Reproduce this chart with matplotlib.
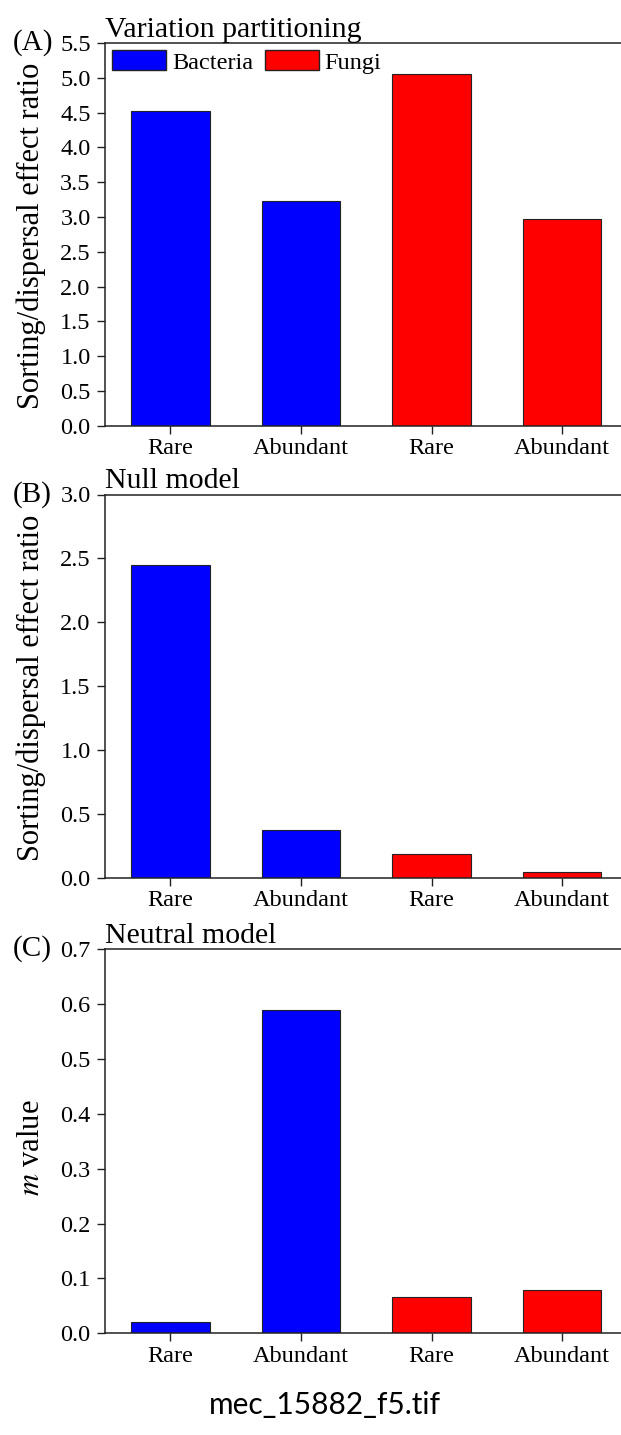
import matplotlib
matplotlib.use("Agg")
from matplotlib import pyplot as plt
from matplotlib.patches import Patch

plt.rcParams['font.family'] = ['Liberation Serif', 'DejaVu Serif']
plt.rcParams['mathtext.fontset'] = 'stix'

categories = ['Rare', 'Abundant', 'Rare', 'Abundant']
groups = ['Bacteria', 'Bacteria', 'Fungi', 'Fungi']
colors = {'Bacteria': '#0000FF', 'Fungi': '#FF0000'}

variation = [4.52, 3.23, 5.05, 2.97]
null_model = [2.45, 0.376, 0.185, 0.047]
neutral = [0.021, 0.588, 0.067, 0.078]

W, H = 621, 1435
LEFT = 105
fig = plt.figure(figsize=(W / 100, H / 100), dpi=100)


def px_axes(top, bottom):
    return fig.add_axes([LEFT / W, 1 - bottom / H, (W - LEFT) / W, (bottom - top) / H])


panels = [
    (px_axes(43.0, 425.7), variation, 5.5, 0.5, 'Variation partitioning', '(A)',
     'Sorting/dispersal effect ratio', 0.495),
    (px_axes(494.5, 878.0), null_model, 3.0, 0.5, 'Null model', '(B)',
     'Sorting/dispersal effect ratio', 0.495),
    (px_axes(949.0, 1333.3), neutral, 0.7, 0.1, 'Neutral model', '(C)',
     r'$\it{m}$ value', 0.483),
]

edge = '#222222'
for ax, vals, ymax, step, title, letter, ylab, ly in panels:
    x = range(len(vals))
    ax.bar(x, vals, width=0.6, color=[colors[g] for g in groups],
           edgecolor=edge, linewidth=0.8)
    ax.set_xlim(-0.5, 3.45)
    ax.set_ylim(0, ymax)
    n = int(round(ymax / step))
    ticks = [i * step for i in range(n + 1)]
    ax.set_yticks(ticks)
    ax.set_yticklabels([f'{t:.1f}' for t in ticks])
    ax.set_xticks(list(x))
    ax.set_xticklabels(categories)
    ax.tick_params(axis='both', direction='out', length=5.8, width=1.0,
                   color=edge, labelsize=17.5)
    ax.tick_params(axis='y', pad=4.5)
    ax.tick_params(axis='x', pad=3)
    ax.spines['right'].set_visible(False)
    for s in ['left', 'bottom', 'top']:
        ax.spines[s].set_color(edge)
        ax.spines[s].set_linewidth(1.1)
    ax.set_title(title, loc='left', fontsize=21.5, pad=4)
    ax.set_ylabel(ylab, fontsize=22)
    ax.yaxis.set_label_coords(-0.114, ly)
    bb = ax.get_position()
    fig.text(13 / W, bb.y1, letter, fontsize=21, va='center', ha='left')

leg = panels[0][0].legend(
    handles=[Patch(facecolor=colors['Bacteria'], edgecolor=edge, label='Bacteria'),
             Patch(facecolor=colors['Fungi'], edgecolor=edge, label='Fungi')],
    loc='upper left', ncol=2, frameon=False, fontsize=17.5,
    handlelength=2.2, handleheight=0.9, handletextpad=0.25, columnspacing=0.5,
    borderaxespad=0.0, borderpad=0.3, bbox_to_anchor=(0.0, 1.0))

fig.text(325 / W, 1 - 1405 / H, 'mec_15882_f5.tif', fontsize=21.5,
         family=['Lato', 'DejaVu Sans'], ha='center', va='center')

fig.savefig('out.png', dpi=100)
